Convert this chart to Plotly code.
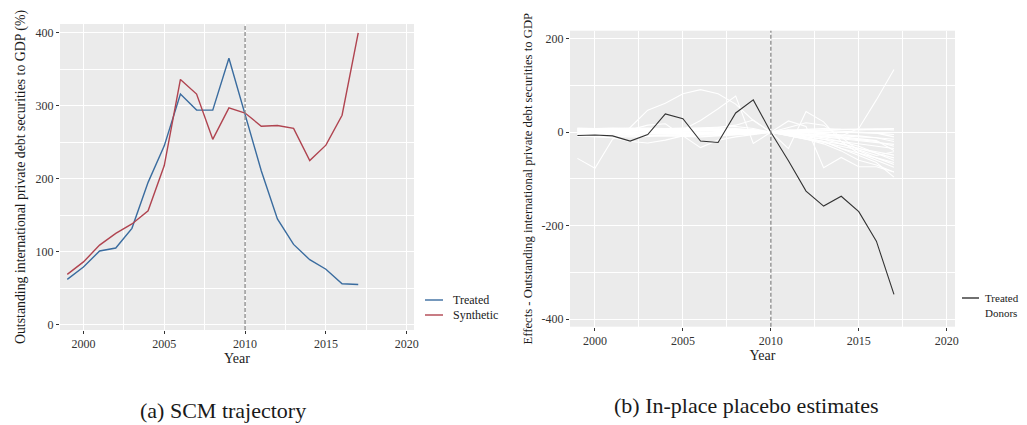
import plotly.graph_objects as go

years = list(range(1999, 2018))

treated_level = [62, 79, 101, 105, 132, 195, 245, 316, 294, 294, 365, 289, 211, 145, 110, 89, 76, 56, 55]
synthetic_level = [69, 86, 109, 125, 138, 156, 218, 336, 316, 254, 297, 290, 272, 273, 269, 225, 246, 287, 400]

treated_effect = [-7, -6, -8, -19, -5, 39, 29, -19, -22, 41, 69, 0, -61, -126, -158, -137, -170, -233, -347]

donor_effects = [
    [-56, -77, -15, 10, 47, 62, 82, 91, 82, 60, 25, 0, -5, -10, -15, -20, -25, -30, -35],
    [5, 3, 2, 0, -2, 0, 5, 25, 50, 77, -24, 0, -8, -15, -20, -25, -35, -45, -55],
    [-5, -4, -3, 5, 15, 18, -8, -5, 2, 5, 3, 0, 10, 20, 15, -10, -40, -55, -65],
    [-8, -10, -12, -20, -23, -17, -8, -33, -17, -10, -5, 0, -35, 44, 22, -20, -45, -60, -75],
    [3, 2, 1, 2, 4, 5, 4, 8, 10, 15, 26, 0, 24, 12, -76, -54, -74, -74, -85],
    [2, 1, 2, 3, 2, 1, 2, 3, 4, 5, 3, 0, 5, 2, -3, -8, 8, 69, 134],
    [6, 5, 6, 7, 6, 5, 6, 7, 6, 8, 5, 0, 2, 4, 5, 6, 7, 8, 8],
    [-6, -5, -6, -5, -7, -6, -5, -6, -7, -5, -4, 0, -3, -6, -10, -14, -18, -22, -26],
    [4, 3, 4, 3, 5, 4, 3, 4, 5, 6, 4, 0, -2, -5, -8, -12, -16, -20, -30],
    [-3, -2, -3, -4, -3, -2, -3, -4, -3, -2, -1, 0, -5, -10, -15, -25, -35, -42, -49],
    [1, 2, 1, 0, 1, 2, 1, 0, 1, 2, 1, 0, -4, -8, -12, -20, -30, -45, -60],
    [8, 7, 8, 9, 8, 7, 8, 9, 10, 12, 8, 0, -6, -12, -20, -35, -50, -65, -96],
    [-9, -8, -9, -10, -9, -8, -9, -10, -8, -6, -4, 0, -2, -3, -5, -7, -9, -12, -15],
    [5, 6, 5, 4, 5, 6, 5, 4, 5, 4, 3, 0, 1, 2, 1, 0, -1, -2, -5],
    [-1, 0, -1, 0, -1, 0, -1, 0, -1, 0, -1, 0, 3, 5, 4, 2, 0, -2, -10],
    [7, 6, 7, 6, 7, 6, 7, 6, 7, 6, 5, 0, -8, -15, -25, -40, -60, -70, -85],
    [-4, -3, -4, -3, -4, -3, -4, -3, -4, -3, -2, 0, -5, -12, -20, -35, -45, -55, -69],
    [3, 4, 3, 4, 3, 4, 3, 4, 3, 4, 2, 0, 1, -1, -3, -5, -8, -12, -20],
    [-7, -6, -7, -6, -7, -6, -7, -6, -5, -4, -3, 0, -2, -4, -6, -10, -14, -18, -39],
    [9, 8, 9, 8, 9, 8, 9, 8, 7, 6, 5, 0, 4, 6, 8, 6, 5, 6, 5],
    [0, 1, 0, -1, 0, 1, 0, -1, 0, 1, 0, 0, -7, -14, -22, -30, -38, -50, -42],
]

x_ticks = [2000, 2005, 2010, 2015, 2020]
left_y_ticks = [0, 100, 200, 300, 400]
right_y_ticks = [-400, -200, 0, 200]
treatment_year = 2010

FONT = "Liberation Serif"
BLUE = "#3A6C9F"
RED = "#B04450"
DARK = "#333333"
BG = "#EBEBEB"

# page body has an 8px margin: size the figure so that it fills the window exactly
OFF = 8
W, H = 1027 - OFF, 425 - OFF
def fx(p):
    return (p - OFF) / W
def fy(p):
    return 1 - (p - OFF) / H

fig = go.Figure()

fig.add_trace(go.Scatter(x=years, y=treated_level, mode="lines", name="Treated",
                         line=dict(color=BLUE, width=1.4), xaxis="x", yaxis="y"))
fig.add_trace(go.Scatter(x=years, y=synthetic_level, mode="lines", name="Synthetic",
                         line=dict(color=RED, width=1.4), xaxis="x", yaxis="y"))

for d in donor_effects:
    fig.add_trace(go.Scatter(x=years, y=d, mode="lines", name="Donors",
                             line=dict(color="white", width=1.1), xaxis="x2", yaxis="y2",
                             hoverinfo="skip"))
fig.add_trace(go.Scatter(x=years, y=treated_effect, mode="lines", name="Treated",
                         line=dict(color=DARK, width=1.1), xaxis="x2", yaxis="y2"))

axis_common = dict(
    showgrid=True, gridcolor="white", gridwidth=1.3, zeroline=False,
    ticks="outside", ticklen=3, tickcolor=DARK, tickwidth=0.8,
    tickfont=dict(family=FONT, size=12, color=DARK),
    showline=False, automargin=False,
)

fig.update_layout(
    width=W, height=H,
    margin=dict(l=0, r=0, t=0, b=0),
    paper_bgcolor="white",
    plot_bgcolor=BG,
    showlegend=False,
    font=dict(family=FONT, color="#1a1a1a"),
    xaxis=dict(domain=[fx(60), fx(414)], range=[1998.55, 2020.45], tickvals=x_ticks,
               minor=dict(dtick=2.5, tick0=1997.5, showgrid=True, gridcolor="white", gridwidth=0.6, ticks=""),
               title=dict(text="Year", font=dict(family=FONT, size=14, color="#1a1a1a"), standoff=0),
               anchor="y", **axis_common),
    yaxis=dict(domain=[fy(330), fy(24)], range=[-7.3, 412], tickvals=left_y_ticks,
               minor=dict(dtick=50, tick0=50, showgrid=True, gridcolor="white", gridwidth=0.6, ticks=""),
               title=dict(text="Outstanding international private debt securities to GDP (%)",
                          font=dict(family=FONT, size=13.8, color="#1a1a1a"), standoff=6),
               anchor="x", **axis_common),
    xaxis2=dict(domain=[fx(570), fx(955)], range=[1998.58, 2020.47], tickvals=x_ticks,
                minor=dict(dtick=2.5, tick0=1997.5, showgrid=True, gridcolor="white", gridwidth=0.6, ticks=""),
                title=dict(text="Year", font=dict(family=FONT, size=14, color="#1a1a1a"), standoff=0),
                anchor="y2", **axis_common),
    yaxis2=dict(domain=[fy(326.7), fy(30.7)], range=[-416, 217], tickvals=right_y_ticks,
                ticktext=["-400", "-200", "0", "200"],
                minor=dict(dtick=100, tick0=-300, showgrid=True, gridcolor="white", gridwidth=0.6, ticks=""),
                title=dict(text="Effects - Outstanding international private debt securities to GDP",
                           font=dict(family=FONT, size=12.7, color="#1a1a1a"), standoff=6),
                anchor="x2", **axis_common),
)

for xr, yr in [("x", "y"), ("x2", "y2")]:
    fig.add_shape(type="line", xref=xr, yref=yr + " domain", x0=treatment_year, x1=treatment_year,
                  y0=0, y1=1, line=dict(color="#8a8a8a", width=1.3, dash="4px,2px"), layer="above")

# legends (key lines + text)
legend_items = [
    (425, 443, 452, 300, BLUE, "Treated", 12),
    (425, 443, 452, 315, RED, "Synthetic", 12),
    (962, 979, 984, 298, DARK, "Treated", 11),
    (962, 979, 984, 313, "white", "Donors", 11),
]
for x0, x1, tx, yy, col, txt, fs in legend_items:
    fig.add_shape(type="line", xref="paper", yref="paper", x0=fx(x0), x1=fx(x1), y0=fy(yy), y1=fy(yy),
                  line=dict(color=col, width=1.4))
    fig.add_annotation(text=txt, x=fx(tx), y=fy(yy), xref="paper", yref="paper", showarrow=False,
                       xanchor="left", yanchor="middle", xshift=-1,
                       font=dict(family=FONT, size=fs, color="#1a1a1a"))

fig.add_annotation(text="(a) SCM trajectory", x=fx(223), y=fy(410), xref="paper", yref="paper",
                   showarrow=False, xanchor="center", yanchor="middle",
                   font=dict(family=FONT, size=22, color="#1a1a1a"))
fig.add_annotation(text="(b) In-place placebo estimates", x=fx(746), y=fy(405), xref="paper", yref="paper",
                   showarrow=False, xanchor="center", yanchor="middle",
                   font=dict(family=FONT, size=22, color="#1a1a1a"))

fig.write_html("out.html")
